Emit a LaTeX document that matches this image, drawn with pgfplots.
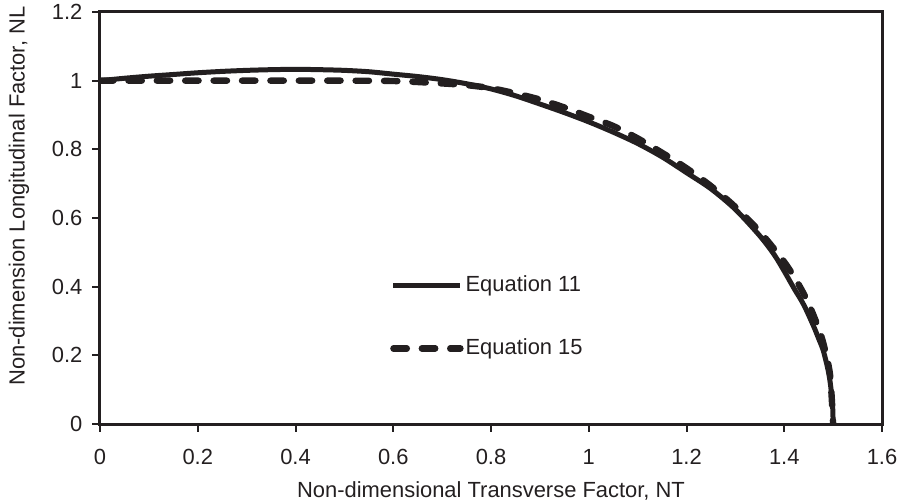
\documentclass[border=0pt]{standalone}
\usepackage{fontspec}
\setmainfont{Liberation Sans}
\usepackage{pgfplots}
\pgfplotsset{compat=1.18}
\definecolor{ink}{HTML}{231F20}

\begin{document}
\begin{tikzpicture}
\begin{axis}[scale only axis,width=391bp,height=206bp,
 xmin=0,xmax=1.6,ymin=0,ymax=1.2,
 xtick={0,0.2,...,1.6},ytick={0,0.2,...,1.2},
 tick pos=left,tick align=outside,major tick length=3.8bp,
 every tick/.style={ink,line width=1bp},
 axis line style={ink,line width=1.5bp},
 /pgf/number format/assume math mode=true,
 tick label style={font=\fontsize{11}{13}\selectfont,text=ink},
 xticklabel style={yshift=-5.5bp},
 yticklabel style={xshift=-1.5bp},
 label style={font=\fontsize{11}{13}\selectfont,text=ink},
 xlabel={Non-dimensional Transverse Factor, NT},
 ylabel={Non-dimension Longitudinal Factor, NL},
 xlabel style={at={(axis description cs:0.5,-0.162)},anchor=center},
 ylabel style={at={(axis description cs:-0.1036,0.553)},anchor=center},
 legend style={at={(axis cs:0.593,0.3117)},anchor=west,draw=none,fill=none,inner sep=0pt,
  row sep=20bp,font=\fontsize{11}{13}\selectfont,text=ink,
  nodes={inner sep=1bp}},
 legend cell align=left,
 legend image code/.code={\draw[#1] (-1bp,0bp) -- (32.5bp,0bp);},
]
\addplot[ink,line width=2.5bp,smooth] coordinates {
(0,1.000) (0.05,1.007) (0.1,1.013) (0.15,1.018) (0.2,1.023) (0.25,1.027) (0.3,1.030)
(0.35,1.032) (0.4,1.033) (0.45,1.032) (0.5,1.030) (0.55,1.026) (0.6,1.019) (0.65,1.012)
(0.7,1.003) (0.75,0.991) (0.8,0.976) (0.85,0.956) (0.9,0.932) (0.95,0.907) (1.0,0.880)
(1.05,0.850) (1.1,0.817) (1.15,0.778) (1.2,0.732) (1.25,0.685) (1.3,0.625) (1.35,0.548)
(1.38,0.492) (1.4,0.445) (1.42,0.395) (1.44,0.347) (1.46,0.285) (1.47,0.250) (1.48,0.213)
(1.49,0.155) (1.495,0.110) (1.499,0.050) (1.5,0)};
\addlegendentry{Equation 11}
\addplot[ink,line width=3.2bp,line cap=round,dash pattern=on 6.7bp off 7.5bp,smooth] coordinates {
(0,1) (0.1,1) (0.2,1) (0.3,1) (0.4,1) (0.5,1) (0.6,0.999) (0.65,0.996) (0.7,0.992)
(0.75,0.987) (0.8,0.978) (0.85,0.963) (0.9,0.945) (0.95,0.922) (1.0,0.895) (1.05,0.868)
(1.1,0.832) (1.15,0.790) (1.2,0.745) (1.25,0.693) (1.3,0.632) (1.35,0.560) (1.4,0.472)
(1.43,0.405) (1.45,0.350) (1.47,0.280) (1.48,0.235) (1.49,0.175) (1.495,0.125) (1.5,0)};
\addlegendentry{Equation 15}
\end{axis}
\pgfresetboundingbox
\useasboundingbox (-50bp,-38.5bp) rectangle (399.5bp,212bp);
\end{tikzpicture}
\end{document}
